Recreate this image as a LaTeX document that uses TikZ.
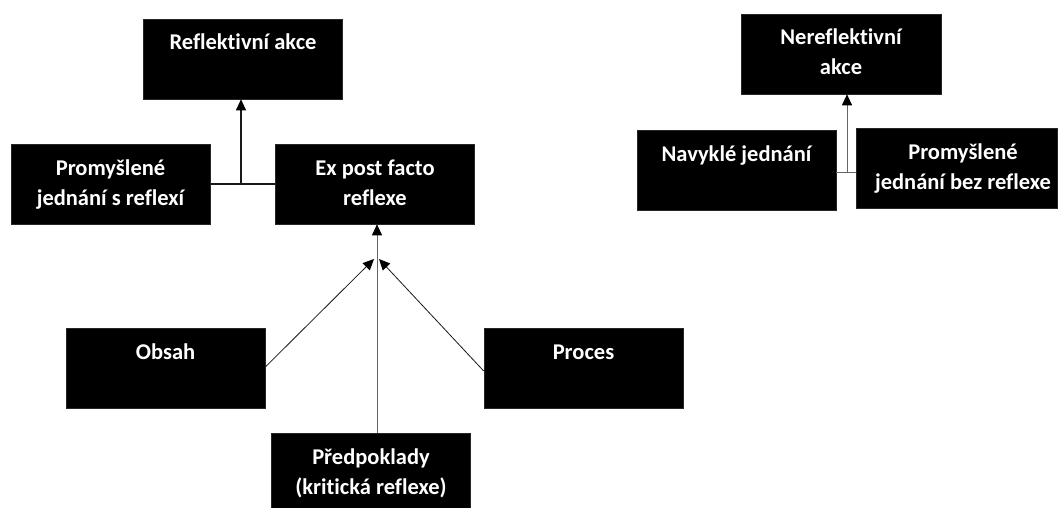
\documentclass[tikz,border=0pt]{standalone}
\usepackage{fontspec}
\setmainfont{Carlito}[Ligatures={NoCommon,NoContextual}]
\usetikzlibrary{arrows.meta,calc}
\begin{document}
\begin{tikzpicture}[x=1pt,y=-1pt,
  blackbox/.style={rectangle,fill=black,draw=black!85,line width=0.6pt,text=white,
    minimum width=199pt,minimum height=80pt,inner sep=0pt,align=center,
    font=\fontsize{22.5}{30}\selectfont\bfseries},
  conn/.style={line width=1.1pt,draw=black!90},
  connthin/.style={line width=0.9pt,draw=black!60},
  tip/.style={-{Triangle[length=11pt,width=10pt,color=black]}}]
\useasboundingbox (0,0) rectangle (1060,508);
\fill[white] (0,0) rectangle (1060,508);
% left group
\node[blackbox] (refl) at (243,59) {Reflektivní akce\strut\\\strut};
\node[blackbox] (prom1) at (110.5,184) {Promyšlené\strut\\jednání s reflexí\strut};
\node[blackbox] (expost) at (375,184) {Ex post facto\strut\\reflexe\strut};
\node[blackbox] (obsah) at (165.5,368.5) {Obsah\strut\\\strut};
\node[blackbox] (proces) at (583.5,368) {Proces\strut\\\strut};
\node[blackbox] (predp) at (371,473) {Předpoklady\strut\\(kritická reflexe)\strut};
% right group
\node[blackbox,minimum width=200pt] (nerefl) at (841,54) {Nereflektivní\strut\\akce\strut};
\node[blackbox] (navyk) at (736.5,170.5) {Navyklé jednání\strut\\\strut};
\node[blackbox,minimum width=201pt] (prom2) at (956.5,168) {\hspace*{13pt}Promyšlené\strut\\\hspace*{13pt}jednání bez reflexe\strut};
% junction points
\coordinate (j1) at (241,184);
\coordinate (j2) at (847,172);
\coordinate (jl) at (374,259);
\coordinate (jr) at (379,259);
\coordinate (jv) at (377,259);
% connectors
\draw[conn] (prom1.east |- j1) -- (expost.west |- j1);
\draw[conn,tip] (j1) -- (j1 |- refl.south);
\draw[connthin] (navyk.east |- j2) -- (prom2.west |- j2);
\draw[connthin,tip] (j2) -- (j2 |- nerefl.south);
\draw[connthin,tip] (predp.north -| jv) -- (jv |- expost.south);
\draw[conn,line width=0.8pt,tip] ([yshift=1.5pt]obsah.east) -- (jl);
\draw[conn,line width=0.8pt,tip] ([yshift=-3pt]proces.west) -- (jr);
\end{tikzpicture}
\end{document}
